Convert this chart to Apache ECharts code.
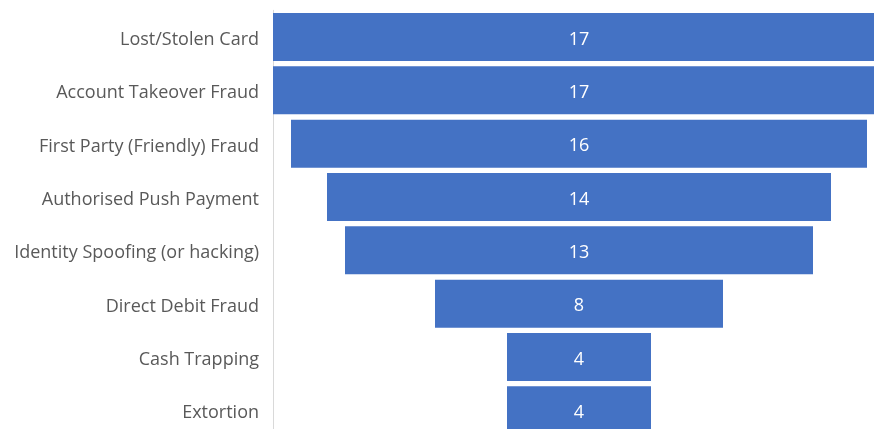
<!DOCTYPE html>
<html>
<head>
<meta charset="utf-8">
<script src="https://cdn.jsdelivr.net/npm/echarts@6/dist/echarts.min.js"></script>
<style>
  html, body { margin: 0; padding: 0; background: #fff; }
  #chart { width: 874px; height: 429px; }
</style>
</head>
<body>
<div id="chart"></div>
<script>
var categories = ['Lost/Stolen Card', 'Account Takeover Fraud', 'First Party (Friendly) Fraud',
    'Authorised Push Payment', 'Identity Spoofing (or hacking)', 'Direct Debit Fraud',
    'Cash Trapping', 'Extortion'];
var counts = [17, 17, 16, 14, 13, 8, 4, 4];

var maxCount = Math.max.apply(null, counts);
// invisible offset so each bar sits centred (funnel look)
var offsets = counts.map(function (v) { return (maxCount - v) / 2; });

var chart = echarts.init(document.getElementById('chart'));
var option = {
    animation: false,
    grid: { left: 273, width: 612, top: 10.3, height: 426.7, outerBoundsMode: 'none' },
    xAxis: {
        type: 'value', min: 0, max: maxCount,
        show: false
    },
    yAxis: {
        type: 'category',
        data: categories,
        inverse: true,
        axisLine: { show: true, lineStyle: { color: '#d9d9d9', width: 1 } },
        axisTick: { show: false },
        axisLabel: {
            color: '#595959', fontSize: 18, margin: 14,
            formatter: function (v) { return '{t|' + v + '}'; },
            rich: { t: { fontSize: 18, color: '#595959', padding: [6, 0, 0, 0],
                fontFamily: '"Open Sans", sans-serif' } },
            fontFamily: '"Open Sans", sans-serif'
        }
    },
    series: [
        {
            type: 'bar', stack: 'f', data: offsets,
            itemStyle: { color: 'transparent' },
            silent: true
        },
        {
            type: 'bar', stack: 'f', data: counts,
            barCategoryGap: '10%',
            itemStyle: { color: '#4472C4' },
            label: {
                show: true, position: 'inside', color: '#fff',
                formatter: '{t|{c}}',
                rich: { t: { fontSize: 18, color: '#fff', padding: [5, 0, 0, 0],
                    fontFamily: '"Open Sans", sans-serif' } },
                fontSize: 18, fontFamily: '"Open Sans", sans-serif'
            }
        }
    ]
};
chart.setOption(option);
</script>
</body>
</html>
